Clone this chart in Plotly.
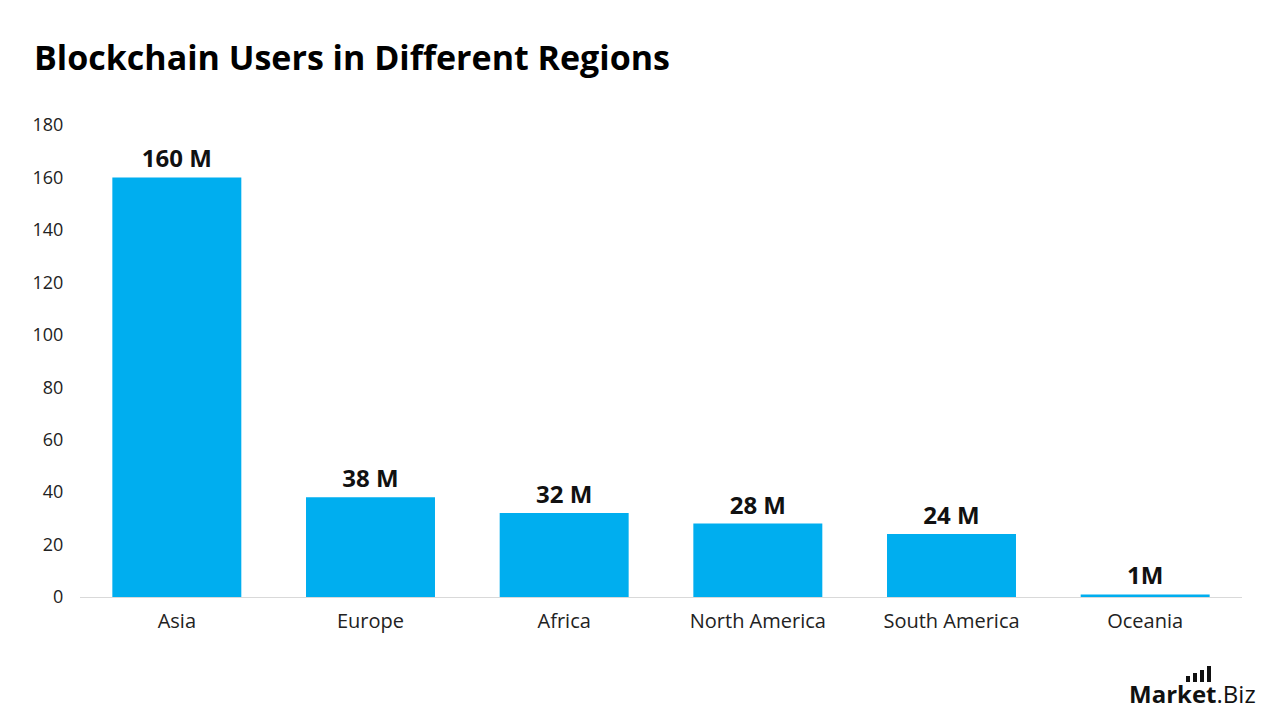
import plotly.graph_objects as go

regions = ["Asia", "Europe", "Africa", "North America", "South America", "Oceania"]
users_m = [160, 38, 32, 28, 24, 1]
value_labels = ["160 M", "38 M", "32 M", "28 M", "24 M", "1M"]
y_ticks = [0, 20, 40, 60, 80, 100, 120, 140, 160, 180]

fig = go.Figure(go.Bar(
    x=regions, y=users_m,
    marker=dict(color="#00AEEF", line=dict(width=0)),
    text=value_labels, textposition="outside",
    textfont=dict(family="Open Sans", size=24, color="#111111", weight=700),
    cliponaxis=False,
))

fig.update_layout(
    width=1280, height=720,
    margin=dict(l=80, r=38, t=125, b=123),
    paper_bgcolor="white", plot_bgcolor="white",
    bargap=0.334,
    showlegend=False,
    font=dict(family="Open Sans", color="#222222"),
    title=dict(text="<b>Blockchain Users in Different Regions</b>",
               x=34/1280, xanchor="left", y=1-58/720, yanchor="middle",
               font=dict(family="Open Sans", size=34, color="#000000")),
    xaxis=dict(showgrid=False, showline=True, linecolor="#d9d9d9", linewidth=1,
               ticks="", tickfont=dict(size=20, color="#222222"), zeroline=False,
               ticklabelstandoff=6),
    yaxis=dict(range=[0, 180], tickvals=y_ticks, showgrid=False, zeroline=False,
               showline=False, tickfont=dict(size=18, color="#222222"),
               ticks="outside", ticklen=12, tickcolor="rgba(0,0,0,0)"),
)

fig.add_annotation(text="<b>Market</b>.Biz", xref="paper", yref="paper",
                   x=(1258-80)/1162, y=-(693-597)/472, xanchor="right", yanchor="middle",
                   showarrow=False, font=dict(family="Open Sans", size=24, color="#111111"))

# logo bar icon (decoration)
for i, h in enumerate([6, 9, 12, 16]):
    x0 = 1186 + i * 7
    fig.add_shape(type="rect", xref="paper", yref="paper",
                  x0=(x0-80)/1162, x1=(x0+4-80)/1162,
                  y0=-(682-597)/472, y1=-(682-h-597)/472,
                  fillcolor="#111111", line=dict(width=0))

fig.write_html("out.html")
